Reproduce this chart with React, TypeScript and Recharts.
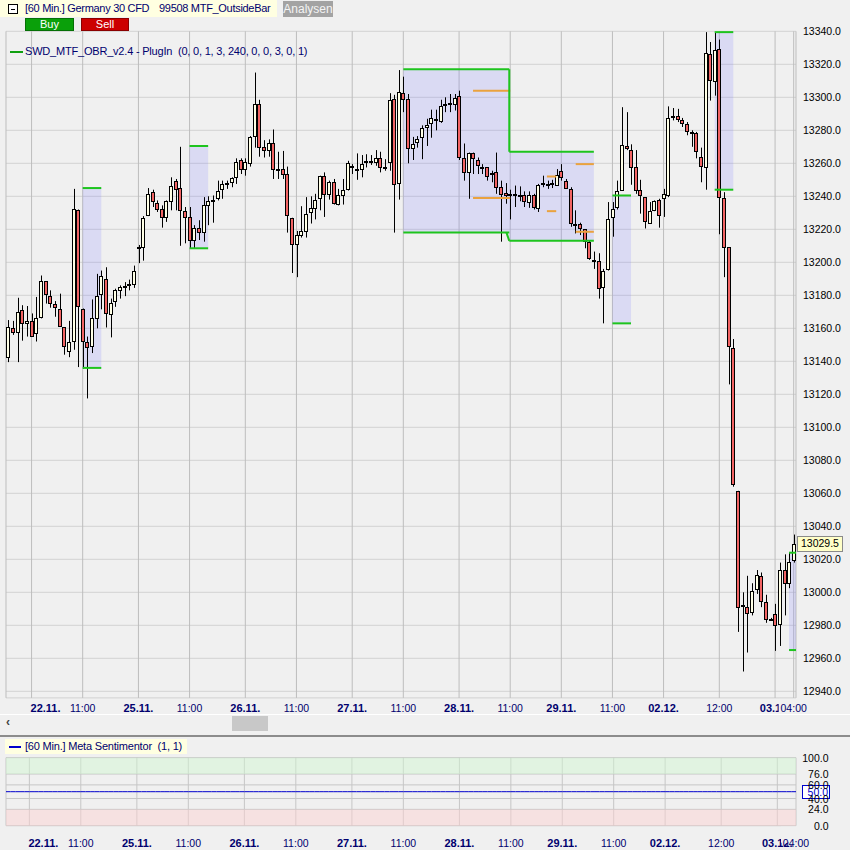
import React from "react";
import {
  ComposedChart,
  Bar,
  Line,
  XAxis,
  YAxis,
  CartesianGrid,
  ReferenceArea,
  ReferenceLine,
} from "recharts";

// ============================================================
// Germany 30 CFD, 60 min candles with MTF outside bar ranges
// 21.11. 18:00 -> 03.12. 04:00 (170 bars)
// ============================================================

const FONT = "'Liberation Sans', Arial, sans-serif";
const NAVY = "#00006e";

const opens = [
  13142.5, 13160, 13157.5, 13171, 13163.5, 13164.5, 13157, 13167, 13188.5, 13179.5,
  13175, 13172, 13160.5, 13146, 13152.5, 13232, 13172, 13151.5, 13149, 13166.5,
  13180.5, 13190, 13168.5, 13176.5, 13183.5, 13185.5, 13186.5, 13187, 13208.5, 13209,
  13228.5, 13242.5, 13236, 13232.5, 13227.5, 13237, 13249, 13245, 13231, 13227.5,
  13213.5, 13221, 13218.5, 13234.5, 13237, 13239, 13244.5, 13247.5, 13248.5, 13251.5,
  13262, 13256.5, 13260, 13276.5, 13296, 13270, 13268, 13272.5, 13256.5, 13256.5,
  13253.5, 13227, 13211, 13216.5, 13219, 13230.5, 13233, 13239, 13252, 13241.5,
  13248.5, 13235.5, 13241, 13244.5, 13258.5, 13256.5, 13256.5, 13260.5, 13261.5, 13261,
  13263.5, 13257.5, 13261, 13299, 13248, 13302.5, 13299, 13269.5, 13273, 13276,
  13282, 13284.5, 13286.5, 13285.5, 13296, 13296, 13296, 13301, 13263, 13254.5,
  13266, 13262, 13257.5, 13257.5, 13254, 13254.5, 13245.5, 13242, 13241.5, 13241.5,
  13240.5, 13241, 13236.5, 13240.5, 13233, 13247.5, 13247.5, 13248, 13247, 13255.5,
  13249.5, 13244.5, 13223.5, 13223, 13220, 13212, 13201.5, 13200.5, 13185, 13196,
  13227.5, 13233.5, 13244, 13270.5, 13268, 13257.5, 13244, 13239.5, 13224, 13231.5,
  13238, 13239, 13240.5, 13288, 13288.5, 13286.5, 13284, 13279, 13278.5, 13264,
  13258, 13326.5, 13310, 13329, 13239, 13209, 13148, 13061.5, 12992.5, 12991,
  12988, 13002, 13010, 12994, 12984, 12987, 12981, 13013.5, 13005.5, 13019.5,
];

const highs = [
  13165, 13164.5, 13178.5, 13174, 13173.5, 13169, 13179, 13192, 13188.5, 13183,
  13176.5, 13181, 13160.5, 13164.5, 13244.5, 13232, 13172, 13155, 13177.5, 13193,
  13195, 13197, 13178, 13184, 13186, 13188, 13189.5, 13198, 13210.5, 13228,
  13245, 13244, 13237.5, 13234.5, 13237.5, 13251.5, 13250.5, 13270, 13233.5, 13233.5,
  13222.5, 13225.5, 13239.5, 13240, 13240.5, 13249.5, 13249.5, 13249.5, 13251.5, 13263,
  13263, 13263, 13276.5, 13315, 13298.5, 13274, 13274.5, 13280.5, 13267, 13267.5,
  13258, 13227, 13219, 13234, 13239.5, 13240, 13241.5, 13252.5, 13254.5, 13249.5,
  13250.5, 13244.5, 13250.5, 13261.5, 13259.5, 13266, 13265, 13265.5, 13265, 13268,
  13267, 13262.5, 13302.5, 13301.5, 13316.5, 13312.5, 13302, 13276, 13276.5, 13283,
  13287, 13292.5, 13292.5, 13298.5, 13300, 13302, 13302, 13304, 13272, 13266.5,
  13266.5, 13263.5, 13259.5, 13257.5, 13255.5, 13266.5, 13249.5, 13248, 13244, 13246.5,
  13246, 13243, 13243, 13241.5, 13247.5, 13252.5, 13249.5, 13250, 13256.5, 13259.5,
  13250.5, 13245.5, 13231.5, 13224, 13220, 13213.5, 13206.5, 13205.5, 13196, 13236.5,
  13236.5, 13249.5, 13294, 13291, 13271.5, 13268, 13250, 13239.5, 13236.5, 13237.5,
  13238.5, 13244.5, 13294.5, 13293.5, 13293, 13287.5, 13285, 13280, 13279, 13269.5,
  13339.5, 13333.5, 13339, 13335, 13242.5, 13209, 13153.5, 13061.5, 13000, 13010,
  13005.5, 13013.5, 13012, 12998.5, 12984.5, 12993, 13018, 13023, 13024, 13035,
];

const lows = [
  13139.5, 13156, 13139.5, 13152.5, 13155, 13155, 13152, 13166, 13175, 13172.5,
  13167, 13161, 13144, 13142.5, 13147, 13136.5, 13135.5, 13117.5, 13145, 13160,
  13171.5, 13160.5, 13154.5, 13173, 13178, 13179.5, 13183, 13184.5, 13199.5, 13201,
  13228, 13233.5, 13230.5, 13221, 13224.5, 13231.5, 13231.5, 13210, 13211.5, 13208.5,
  13208.5, 13213.5, 13212.5, 13222.5, 13224, 13237.5, 13238.5, 13244.5, 13245.5, 13247.5,
  13253.5, 13252.5, 13258, 13269.5, 13264, 13263.5, 13264, 13250.5, 13250.5, 13250.5,
  13218, 13193.5, 13191, 13215, 13215, 13223.5, 13226, 13231.5, 13227.5, 13238,
  13235, 13234.5, 13235, 13243.5, 13253.5, 13250, 13251.5, 13257.5, 13259, 13258.5,
  13254.5, 13255.5, 13255.5, 13218, 13238, 13291, 13260, 13262, 13269.5, 13262.5,
  13270.5, 13275.5, 13280, 13284.5, 13291, 13291, 13292, 13262, 13249.5, 13238.5,
  13253.5, 13253.5, 13253.5, 13249.5, 13248.5, 13241.5, 13212.5, 13235.5, 13226, 13233.5,
  13237, 13233.5, 13233, 13232, 13230.5, 13245.5, 13244.5, 13245, 13246.5, 13249.5,
  13244.5, 13221.5, 13217.5, 13216.5, 13208.5, 13201.5, 13196, 13178, 13163, 13195,
  13215.5, 13232, 13243.5, 13268, 13247, 13241.5, 13229.5, 13220.5, 13223.5, 13231,
  13221, 13227.5, 13239.5, 13286, 13285, 13282, 13277, 13270, 13263, 13248.5,
  13244, 13298, 13301, 13217, 13191, 13126, 13064, 12976, 12952, 12963.5,
  12986, 12999, 12991, 12981.5, 12983, 12964.5, 12967.5, 12986, 13002.5, 13018,
];

const closes = [
  13160.5, 13157.5, 13170, 13163, 13164.5, 13155.5, 13166.5, 13188.5, 13180.5, 13175.5,
  13173, 13161.5, 13149, 13151.5, 13232, 13173.5, 13152.5, 13148.5, 13166, 13179.5,
  13191.5, 13169, 13175.5, 13183, 13185, 13185.5, 13187, 13195, 13209, 13227,
  13241.5, 13237, 13232.5, 13227.5, 13237, 13246.5, 13244.5, 13231.5, 13227.5, 13213.5,
  13220.5, 13218.5, 13234.5, 13237, 13238, 13243.5, 13247.5, 13248, 13251, 13261,
  13256.5, 13260.5, 13276, 13296, 13270, 13268, 13272.5, 13256.5, 13256, 13253.5,
  13228.5, 13211, 13216.5, 13219, 13229.5, 13233, 13237.5, 13252, 13241.5, 13248.5,
  13236, 13241, 13244, 13260, 13257.5, 13256, 13259.5, 13261.5, 13261.5, 13263,
  13258, 13257, 13298.5, 13247.5, 13303.5, 13299, 13269.5, 13272, 13275, 13281.5,
  13283.5, 13287.5, 13287, 13294.5, 13296, 13296.5, 13299.5, 13264, 13254.5, 13266.5,
  13263, 13259, 13257, 13252.5, 13254, 13245.5, 13241.5, 13240.5, 13241, 13241.5,
  13240.5, 13237, 13241, 13233.5, 13247, 13248, 13247.5, 13248, 13253, 13251.5,
  13245, 13224, 13223, 13221, 13213, 13202.5, 13200.5, 13184.5, 13195, 13226.5,
  13232.5, 13243.5, 13271, 13269.5, 13257.5, 13244, 13241, 13225, 13231, 13237,
  13228.5, 13241.5, 13287.5, 13288.5, 13287, 13284.5, 13279.5, 13278.5, 13267.5, 13258.5,
  13327, 13310.5, 13328.5, 13239.5, 13209, 13149, 13065.5, 12991, 12992, 12987.5,
  13001, 13010.5, 12994.5, 12984, 12983.5, 12980, 13013.5, 13005.5, 13018.5, 13029.5,
];

// x axis labels (bar index -> label)
const tickIdx = [5, 16, 28, 39, 51, 62, 74, 85, 97, 108, 119, 130, 141, 153, 165, 169];
const tickText = [
  "22.11.", "11:00", "25.11.", "11:00", "26.11.", "11:00", "27.11.", "11:00",
  "28.11.", "11:00", "29.11.", "11:00", "02.12.", "12:00", "03.12.", "04:00",
];

const priceTicks = [
  12940, 12960, 12980, 13000, 13020, 13040, 13060, 13080, 13100, 13120, 13140,
  13160, 13180, 13200, 13220, 13240, 13260, 13280, 13300, 13320, 13340,
];
const lastPrice = 13029.5;

// MTF outside bar ranges (bar index from/to, top/bottom price)
const boxFrom = [16, 39, 85, 107.8, 130, 152, 168];
const boxTo = [20, 43, 107.8, 126, 134, 156, 169.5];
const boxTop = [13245, 13270.5, 13317, 13267, 13240.5, 13339.5, 13024];
const boxBottom = [13136, 13208.5, 13218, 13213, 13163, 13244, 12965];

// orange target levels
const levelFrom = [100, 100, 115.9, 115.9, 122.1, 122.1];
const levelTo = [108, 108, 117.9, 117.9, 126, 126];
const levelPrice = [13304, 13239, 13252, 13231, 13259.5, 13218.5];

// Meta Sentimentor panel
const sentimentLevel = 50;
const sentTicks = [0, 24, 40, 60, 76, 100];

const rows = opens.map((o, i) => ({
  i,
  o,
  h: highs[i],
  l: lows[i],
  c: closes[i],
  s: sentimentLevel,
}));

function Candle(props: any) {
  const { x, y, width, height, payload } = props;
  if (!payload || height == null) return null;
  const { o, h, l, c } = payload;
  const k = h > l ? height / (h - l) : 0;
  const py = (v: number) => y + (h - v) * k;
  const left = Math.round(x + width / 2 - 2);
  const top = Math.round(py(Math.max(o, c))) + 0.5;
  const bot = Math.round(py(Math.min(o, c))) + 0.5;
  return (
    <g>
      <line x1={left + 2.5} x2={left + 2.5} y1={y} y2={y + height} stroke="#000" strokeWidth={1} />
      <rect
        x={left + 0.5}
        y={top}
        width={3}
        height={Math.max(bot - top, 1)}
        fill={c > o ? "#ffffe6" : "#f26464"}
        stroke="#000"
        strokeWidth={1}
      />
    </g>
  );
}

function TimeTick({ x, y, payload, dy }: any) {
  const k = tickIdx.indexOf(payload.value);
  if (k < 0) return null;
  const label = tickText[k];
  const isDate = label.endsWith(".");
  const shift = k === 0 ? 14 : 0;
  return (
    <g>
      {label === "04:00" && <rect x={x - 15} y={y + 1} width={36} height={16} fill="#f0f0f0" />}
      <text
        x={x + shift}
        y={y + dy}
        textAnchor="middle"
        fontFamily={FONT}
        fontSize={isDate ? 11 : 10.5}
        fontWeight={isDate ? 700 : 400}
        fill={NAVY}
      >
        {label}
      </text>
    </g>
  );
}

function PriceTick({ x, y, payload }: any) {
  return (
    <text x={x + 7} y={y + 3.5} fontFamily={FONT} fontSize={10.5} fill="#000">
      {Number(payload.value).toFixed(1)}
    </text>
  );
}

function SentTick({ x, y, payload }: any) {
  return (
    <text x={x + 32.5} y={y + 4} textAnchor="end" fontFamily={FONT} fontSize={10.5} fill="#000">
      {Number(payload.value).toFixed(1)}
    </text>
  );
}

function PriceTag({ viewBox }: any) {
  if (!viewBox) return null;
  const x = viewBox.x + viewBox.width + 1;
  const y = viewBox.y;
  return (
    <g>
      <rect x={x + 0.5} y={Math.round(y - 8) + 0.5} width={45} height={15} fill="#ffffc8" stroke="#8a8a8a" />
      <text x={x + 4} y={y + 3.5} fontFamily={FONT} fontSize={10.5} fill="#000">
        {lastPrice.toFixed(1)}
      </text>
    </g>
  );
}

function SentTag({ viewBox }: any) {
  if (!viewBox) return null;
  const x = viewBox.x + viewBox.width + 6;
  const y = viewBox.y;
  return (
    <g>
      <rect x={x + 0.5} y={Math.round(y - 7) + 0.5} width={27} height={13} fill="#ffffff" stroke="#0000cc" />
      <text x={x + 26} y={y + 4} textAnchor="end" fontFamily={FONT} fontSize={10.5} fill="#0000cc">
        {sentimentLevel.toFixed(1)}
      </text>
    </g>
  );
}

const abs = (l: number, t: number, extra: React.CSSProperties = {}): React.CSSProperties => ({
  position: "absolute",
  left: l,
  top: t,
  ...extra,
});

const label = (spacing: number): React.CSSProperties => ({
  fontSize: 11,
  color: NAVY,
  whiteSpace: "pre",
  lineHeight: "13px",
  letterSpacing: spacing,
});

export default function App() {
  const greenSegs: { a: number; b: number; p: number; q: number }[] = [];
  boxFrom.forEach((f, k) => {
    greenSegs.push({ a: f, b: boxTo[k], p: boxTop[k], q: boxTop[k] });
    greenSegs.push({ a: f, b: boxTo[k], p: boxBottom[k], q: boxBottom[k] });
    if (k + 1 < boxFrom.length && boxFrom[k + 1] === boxTo[k]) {
      greenSegs.push({ a: boxTo[k], b: boxTo[k], p: boxTop[k], q: boxTop[k + 1] });
      greenSegs.push({ a: boxTo[k] - 0.6, b: boxTo[k], p: boxBottom[k], q: boxBottom[k + 1] });
    }
  });

  return (
    <div
      style={{
        position: "absolute",
        left: 0,
        top: 0,
        width: 850,
        height: 850,
        background: "#f0f0f0",
        overflow: "hidden",
        fontFamily: FONT,
      }}
    >
      <div style={abs(0, 0)}>
        <ComposedChart
          width={850}
          height={720}
          data={rows}
          margin={{ top: 31.3, right: 0, bottom: 0, left: 6 }}
        >
          <CartesianGrid vertical={false} stroke="#d2d2d2" />
          <CartesianGrid horizontal={false} stroke="#bdbdbd" />
          <XAxis
            dataKey="i"
            type="category"
            ticks={tickIdx}
            interval={0}
            height={22.1}
            tickSize={0}
            tickMargin={0}
            axisLine={false}
            tickLine={false}
            tick={(p: any) => <TimeTick {...p} dy={13.8} />}
          />
          <XAxis xAxisId="num" dataKey="i" type="number" domain={[-0.5, 169.5]} hide allowDataOverflow />
          <YAxis
            orientation="right"
            width={54}
            domain={[12936, 13340]}
            ticks={priceTicks}
            interval={0}
            tickSize={0}
            tickMargin={0}
            axisLine={false}
            tickLine={false}
            allowDataOverflow
            tick={(p: any) => <PriceTick {...p} />}
          />
          {boxFrom.map((f, k) => (
            <ReferenceArea
              key={"box" + k}
              xAxisId="num"
              x1={f}
              x2={boxTo[k]}
              y1={boxBottom[k]}
              y2={boxTop[k]}
              fill="#8080ff"
              fillOpacity={0.2}
              stroke="none"
              ifOverflow="visible"
            />
          ))}
          {levelFrom.map((f, k) => (
            <ReferenceLine
              key={"lvl" + k}
              xAxisId="num"
              segment={[
                { x: f, y: levelPrice[k] },
                { x: levelTo[k], y: levelPrice[k] },
              ]}
              stroke="#eaa23e"
              strokeWidth={2}
              ifOverflow="visible"
            />
          ))}
          {greenSegs.map((s, k) => (
            <ReferenceLine
              key={"g" + k}
              xAxisId="num"
              segment={[
                { x: s.a, y: s.p },
                { x: s.b, y: s.q },
              ]}
              stroke="#1ec41e"
              strokeWidth={2}
              ifOverflow="visible"
            />
          ))}
          <Bar
            dataKey={(d: any) => [d.l, d.h]}
            shape={(p: any) => <Candle {...p} />}
            isAnimationActive={false}
          />
          <ReferenceLine y={lastPrice} stroke="none" label={<PriceTag />} ifOverflow="visible" />
        </ComposedChart>
      </div>

      <div style={abs(0, 738)}>
        <ComposedChart
          width={850}
          height={112}
          data={rows}
          margin={{ top: 19.7, right: 0, bottom: 0, left: 6 }}
        >
          <CartesianGrid stroke="#c6c6c6" />
          <XAxis
            dataKey="i"
            type="category"
            ticks={tickIdx}
            interval={0}
            height={24.3}
            tickSize={0}
            tickMargin={0}
            axisLine={false}
            tickLine={false}
            tick={(p: any) => <TimeTick {...p} dy={21.5} />}
          />
          <YAxis
            orientation="right"
            width={54}
            domain={[0, 100]}
            ticks={sentTicks}
            interval={0}
            tickSize={0}
            tickMargin={0}
            axisLine={false}
            tickLine={false}
            tick={(p: any) => <SentTick {...p} />}
          />
          <ReferenceArea y1={76} y2={100} fill="#d2f6d2" fillOpacity={0.5} stroke="none" />
          <ReferenceArea y1={0} y2={24} fill="#fcd2d2" fillOpacity={0.5} stroke="none" />
          <Line dataKey="s" stroke="#0000cc" strokeWidth={1} dot={false} isAnimationActive={false} />
          <ReferenceLine y={sentimentLevel} stroke="none" label={<SentTag />} ifOverflow="visible" />
        </ComposedChart>
      </div>

      {/* header */}
      <div style={abs(0, 0, { width: 277, height: 17, background: "#ffffe1" })} />
      <div style={abs(8, 4, { width: 8, height: 8, border: "1px solid #000", background: "#fff" })}>
        <div style={abs(2, 3.5, { width: 4, height: 1, background: "#000" })} />
      </div>
      <div style={abs(25, 2, label(-0.3))}>[60 Min.] Germany 30 CFD</div>
      <div style={abs(159, 2, label(-0.3))}>99508 MTF_OutsideBar</div>
      <div
        style={abs(283, 1, {
          width: 50,
          height: 16,
          background: "#a3a3a3",
          color: "#f4f4f4",
          fontSize: 12,
          lineHeight: "16px",
          textAlign: "center",
        })}
      >
        Analysen
      </div>
      <div
        style={abs(25, 18, {
          width: 47,
          height: 11,
          background: "#0aa00a",
          border: "1px solid #067006",
          color: "#fff",
          fontSize: 11,
          lineHeight: "11px",
          textAlign: "center",
        })}
      >
        Buy
      </div>
      <div
        style={abs(81, 18, {
          width: 46,
          height: 11,
          background: "#cc0000",
          border: "1px solid #8a0000",
          color: "#fff",
          fontSize: 11,
          lineHeight: "11px",
          textAlign: "center",
        })}
      >
        Sell
      </div>
      <div style={abs(10, 51, { width: 13, height: 2, background: "#10a010" })} />
      <div style={abs(25, 45, label(-0.2))}>
        SWD_MTF_OBR_v2.4 - PlugIn  (0, 0, 1, 3, 240, 0, 0, 3, 0, 1)
      </div>

      {/* scrollbar */}
      <div style={abs(0, 714, { width: 850, height: 1, background: "#ffffff" })} />
      <div style={abs(6, 715, { fontSize: 12, fontWeight: 700, color: "#404040", lineHeight: "15px" })}>
        ‹
      </div>
      <div style={abs(232, 716, { width: 36, height: 15, background: "#c8c8c8" })} />
      <div style={abs(0, 735, { width: 850, height: 2, background: "#8c8c8c" })} />

      {/* sentiment legend */}
      <div style={abs(5, 739, { width: 182, height: 15, background: "#ffffe1" })} />
      <div style={abs(9, 746, { width: 12, height: 2, background: "#0000cc" })} />
      <div style={abs(25, 740, label(-0.2))}>[60 Min.] Meta Sentimentor  (1, 1)</div>
    </div>
  );
}
